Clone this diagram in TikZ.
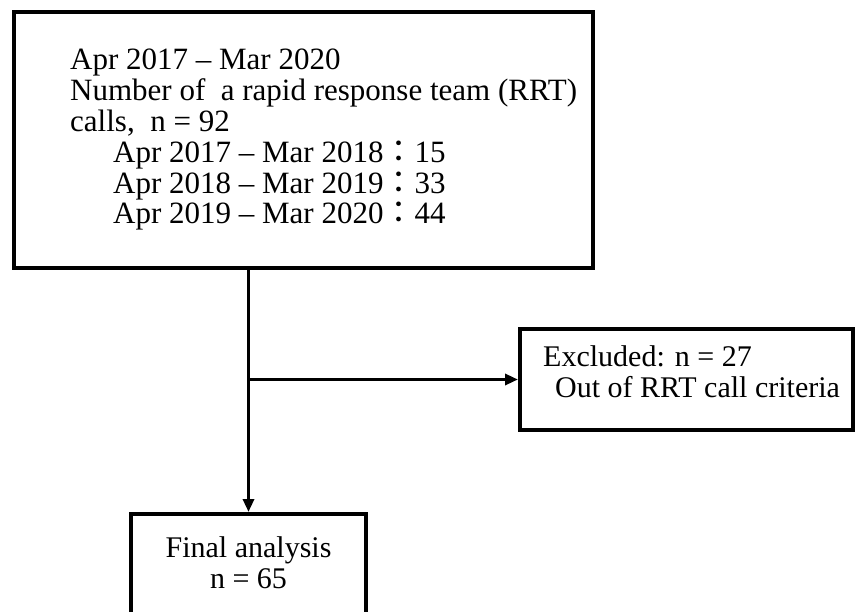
\documentclass[tikz,border=0pt]{standalone}
\usepackage{fontspec}
\setmainfont{Liberation Serif}
\newfontfamily\cjkfont{Noto Sans CJK JP}
\usetikzlibrary{arrows.meta}
\newcommand{\fwcolon}{{\cjkfont ：}}
\tikzset{
  boxnode/.style={draw=black, line width=4pt, rectangle, inner sep=0pt, fill=white},
  txt/.style={inner sep=0pt, align=left, font=\fontsize{30}{31}\selectfont},
  conn/.style={draw=black, line width=3.2pt, -{Triangle[length=13pt,width=11pt]}},
}
\begin{document}
\begin{tikzpicture}[x=1pt,y=-1pt]
\useasboundingbox (0,0) rectangle (857,612);
\fill[white] (0,0) rectangle (857,612);
\clip (0,0) rectangle (857,612);
% boxes
\node[boxnode, minimum width=579pt, minimum height=256pt] (top) at (303.5,140) {};
\node[boxnode, minimum width=333pt, minimum height=101pt] (excl) at (686.5,379.5) {};
\node[boxnode, minimum width=235pt, minimum height=136pt] (final) at (248.5,582) {};
% texts
\node[txt, font=\fontsize{31}{30.8}\selectfont, anchor=north west] (toptext) at (70,49) {Apr 2017 – Mar 2020\\
Number of\ \ a rapid response team (RRT)\\
calls,\ \ n = 92\\
\hspace*{43pt}Apr 2017 – Mar 2018\fwcolon 15\\
\hspace*{43pt}Apr 2018 – Mar 2019\fwcolon 33\\
\hspace*{43pt}Apr 2019 – Mar 2020\fwcolon 44};
\node[txt, anchor=north west] (excltext) at (543,345) {Excluded: n = 27\\
\hspace*{12pt}Out of RRT call criteria};
\node[txt, align=center, anchor=north] (finaltext) at (248.5,536) {Final analysis\\n = 65};
% connectors
\coordinate (branch) at (248.5,379.5);
\draw[conn] (top.south -| final.north) -- (final.north);
\draw[conn] (branch) -- (excl.west);
\end{tikzpicture}
\end{document}
